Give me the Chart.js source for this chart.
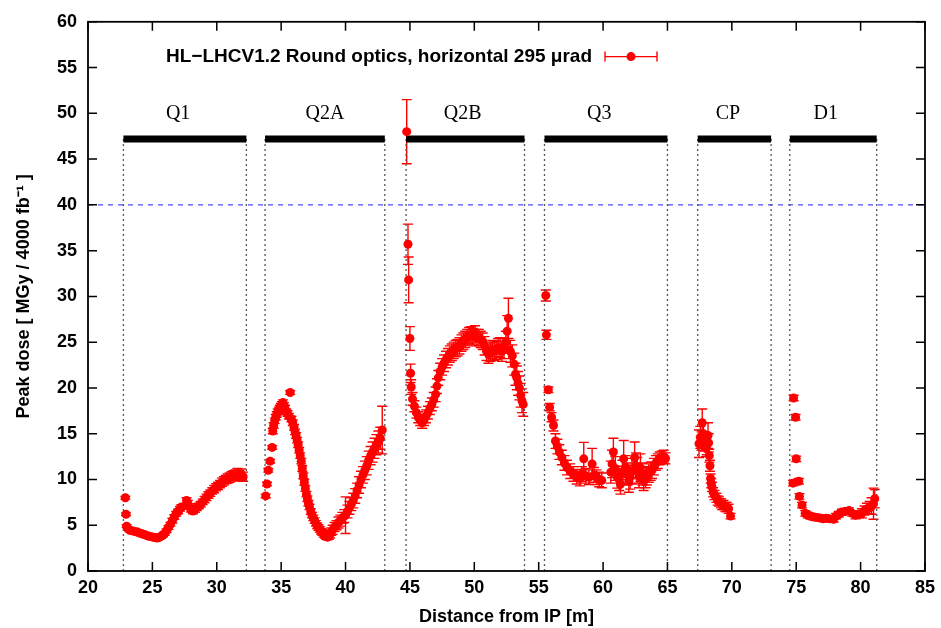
<!DOCTYPE html>
<html><head><meta charset="utf-8">
<script src="https://cdn.jsdelivr.net/npm/chart.js@4.4.1/dist/chart.umd.min.js"></script>
<style>html,body{margin:0;padding:0;background:#fff}#wrap{width:941px;height:628px}</style>
</head><body><div id="wrap"><canvas id="c" width="941" height="628"></canvas></div>
<script>
// ---- axes ----
const xMin = 20, xMax = 85, xStep = 5;
const yMin = 0, yMax = 60, yStep = 5;
const xTitle = 'Distance from IP [m]';
const yTitle = 'Peak dose [ MGy / 4000 fb\u207B\u00B9 ]';
const legendLabel = 'HL\u2212LHCV1.2 Round optics, horizontal 295 \u03BCrad';

// ---- magnets ----
const magnetNames = ['Q1', 'Q2A', 'Q2B', 'Q3', 'CP', 'D1'];
const magnetStart = [22.75, 33.75, 44.7, 55.45, 67.35, 74.5];
const magnetEnd = [32.3, 43.05, 53.9, 65.0, 73.05, 81.25];
const magnetLabelAt = [27.0, 38.4, 49.1, 59.7, 69.7, 77.3];
const magnetBarLevel = 47.2;
const magnetLabelLevel = 49.9;
const doseLimit = 40;

// ---- data: distance [m], peak dose [MGy], error ----
const q1Dist = [22.9,22.95,23.0,23.1,23.25,23.4,23.55,23.7,23.85,24.0,24.15,24.3,24.45,24.6,24.75,24.9,25.05,25.2,25.35,25.5,25.65,25.8,25.95,26.1,26.25,26.4,26.55,26.7,26.85,27.0,27.15,27.25,27.65,27.75,27.85,28.0,28.15,28.3,28.45,28.6,28.75,28.9,29.05,29.2,29.35,29.5,29.65,29.8,29.95,30.1,30.25,30.4,30.55,30.7,30.85,31.0,31.15,31.3,31.45,31.6,31.75,31.9,32.05];
const q1Dose = [8.0,6.2,4.9,4.6,4.45,4.4,4.35,4.3,4.25,4.15,4.1,4.0,3.95,3.85,3.8,3.75,3.7,3.65,3.6,3.65,3.75,3.9,4.1,4.4,4.75,5.1,5.5,5.9,6.25,6.5,6.8,7.0,7.7,7.4,7.05,6.75,6.55,6.7,6.9,7.1,7.3,7.55,7.8,8.05,8.3,8.5,8.75,8.95,9.15,9.3,9.5,9.7,9.85,10.0,10.1,10.2,10.35,10.4,10.5,10.6,10.4,10.55,10.3];
const q1Err = [0.15,0.15,0.15,0.15,0.15,0.15,0.15,0.15,0.15,0.15,0.15,0.15,0.15,0.15,0.15,0.15,0.15,0.15,0.15,0.15,0.2,0.2,0.2,0.2,0.2,0.2,0.25,0.25,0.25,0.25,0.25,0.25,0.3,0.3,0.3,0.3,0.3,0.3,0.3,0.3,0.3,0.3,0.35,0.35,0.35,0.35,0.35,0.4,0.4,0.4,0.4,0.45,0.45,0.45,0.5,0.5,0.5,0.55,0.55,0.6,0.55,0.6,0.5];

const q2aDist = [33.8,33.9,34.0,34.15,34.3,34.35,34.42,34.5,34.58,34.66,34.74,34.82,34.9,34.98,35.06,35.14,35.22,35.3,35.4,35.5,35.6,35.7,35.8,35.9,36.0,36.08,36.16,36.24,36.32,36.4,36.48,36.56,36.64,36.72,36.8,36.88,36.96,37.04,37.12,37.2,37.3,37.4,37.5,37.6,37.7,37.8,37.9,38.0,38.1,38.2,38.3,38.4,38.5,38.6,38.7,38.8,38.9,39.0,39.15,39.3,39.45,39.6,39.75,39.9,40.0,40.15,40.3,40.45,40.6,40.75,40.9,41.05,41.2,41.35,41.5,41.65,41.8,41.95,42.1,42.25,42.4,42.55,42.7,42.85];
const q2aDose = [8.2,9.5,11.0,12.0,13.5,15.3,15.9,16.4,16.8,17.1,17.4,17.6,17.8,18.0,18.2,18.4,18.1,17.8,17.4,17.2,16.9,19.5,16.6,16.2,15.7,15.2,14.8,14.3,13.8,13.2,12.6,12.0,11.2,10.4,9.7,9.0,8.4,7.9,7.4,7.0,6.5,6.1,5.8,5.5,5.2,4.95,4.75,4.55,4.35,4.2,4.0,3.9,3.75,3.7,3.85,4.0,4.3,4.5,4.8,5.0,5.3,5.5,5.8,6.0,6.1,6.5,6.9,7.3,7.7,8.2,8.8,9.4,10.0,10.5,11.0,11.5,12.1,12.6,13.0,13.4,13.8,14.1,14.5,15.4];
const q2aErr = [0.2,0.2,0.2,0.2,0.2,0.3,0.3,0.3,0.3,0.3,0.3,0.3,0.3,0.3,0.3,0.3,0.3,0.3,0.3,0.3,0.3,0.2,0.3,0.3,0.3,0.3,0.3,0.3,0.3,0.3,0.3,0.3,0.3,0.3,0.3,0.3,0.3,0.3,0.3,0.3,0.3,0.3,0.3,0.3,0.3,0.3,0.3,0.3,0.3,0.3,0.3,0.3,0.3,0.3,0.4,0.4,0.4,0.5,0.5,0.5,0.6,0.6,0.6,0.7,2.0,0.7,0.7,0.7,0.8,0.8,0.8,0.9,0.9,0.9,1.0,1.0,1.0,1.0,1.1,1.1,1.1,1.2,1.2,2.6];

const q2bDist = [44.75,44.85,44.9,45.0,45.05,45.1,45.2,45.35,45.5,45.65,45.8,45.95,46.1,46.25,46.4,46.55,46.7,46.85,47.0,47.1,47.2,47.35,47.5,47.65,47.8,47.95,48.1,48.25,48.4,48.55,48.7,48.85,49.0,49.15,49.3,49.45,49.6,49.75,49.9,50.05,50.2,50.35,50.5,50.65,50.8,50.95,51.1,51.25,51.4,51.55,51.7,51.85,52.0,52.15,52.3,52.45,52.55,52.65,52.8,52.95,53.1,53.2,53.3,53.4,53.5,53.6,53.7,53.8];
const q2bDose = [48.0,35.7,31.8,25.4,21.6,20.1,18.8,18.0,17.3,16.8,16.5,16.2,16.5,16.9,17.3,17.8,18.2,18.7,19.3,20.2,21.1,21.8,22.3,22.7,23.1,23.4,23.7,23.9,24.1,24.3,24.4,24.6,24.9,25.1,25.3,25.5,25.7,25.8,25.6,25.9,25.5,25.5,25.3,25.1,24.6,24.0,23.7,23.9,24.2,24.0,24.1,24.4,24.4,24.0,24.3,25.0,26.2,27.6,24.0,23.5,22.6,21.5,21.1,20.5,20.0,19.2,18.6,18.2];
const q2bErr = [3.5,2.2,2.5,1.3,1.0,0.8,0.7,0.6,0.6,0.6,0.6,0.6,0.6,0.7,0.7,0.7,0.7,0.8,0.8,0.8,0.8,0.9,0.9,0.9,0.9,0.9,0.9,0.9,0.9,0.9,0.9,0.9,0.9,0.9,0.9,0.9,0.9,0.9,0.9,0.9,0.9,0.9,0.9,0.9,1.0,1.0,1.0,1.0,1.0,1.0,1.0,1.0,1.1,1.1,1.1,1.2,1.7,2.2,1.2,1.2,1.2,1.2,1.3,1.3,1.3,1.3,1.3,1.3];

const q3Dist = [55.55,55.6,55.75,55.85,56.0,56.15,56.3,56.45,56.6,56.8,57.0,57.2,57.45,57.7,57.95,58.2,58.35,58.5,58.65,58.9,59.15,59.3,59.5,59.7,59.9,60.6,60.7,60.8,60.95,61.1,61.25,61.35,61.5,61.6,61.75,61.9,62.0,62.1,62.25,62.45,62.55,62.65,62.8,62.9,63.05,63.15,63.3,63.4,63.55,63.7,63.8,63.95,64.1,64.25,64.4,64.55,64.7,64.85];
const q3Dose = [30.1,25.8,19.8,17.9,16.8,15.9,14.2,13.6,13.0,12.4,11.8,11.3,10.9,10.6,10.3,10.1,10.6,12.25,10.4,10.25,11.7,10.5,10.25,10.0,9.9,10.8,11.7,13.0,11.2,10.25,10.0,9.5,10.8,12.25,11.3,10.6,9.8,10.25,10.9,12.4,11.5,11.0,10.3,11.3,10.6,9.9,10.2,10.4,10.7,10.9,11.0,11.4,11.8,12.0,12.3,12.4,12.5,12.3];
const q3Err = [0.6,0.5,0.3,0.4,0.5,0.6,0.8,0.8,0.8,0.8,0.8,0.8,0.8,0.8,0.8,0.8,0.8,1.8,0.8,0.8,1.7,0.8,0.8,0.8,0.8,1.2,1.5,1.5,1.3,1.2,1.2,1.1,1.3,2.0,1.3,1.2,1.2,1.3,1.4,1.7,1.4,1.4,1.2,1.5,1.2,1.1,1.1,1.0,1.0,1.0,0.9,0.9,0.8,0.8,0.7,0.7,0.7,0.6];

const cpDist = [67.45,67.55,67.65,67.7,67.8,67.9,68.0,68.05,68.15,68.2,68.25,68.3,68.35,68.4,68.45,68.55,68.65,68.8,68.9,69.0,69.15,69.25,69.35,69.5,69.6,69.75,69.9];
const cpDose = [13.9,14.6,14.2,16.2,15.0,14.1,13.5,13.7,14.8,14.0,12.6,11.5,10.1,9.6,9.2,8.6,8.3,8.0,7.7,7.6,7.4,7.2,7.2,7.0,7.0,6.8,6.0];
const cpErr = [1.5,1.2,1.0,1.5,1.2,1.0,1.0,1.0,1.4,1.0,0.7,0.6,0.5,0.5,0.5,0.5,0.5,0.5,0.5,0.5,0.5,0.5,0.5,0.5,0.5,0.5,0.3];

const d1Dist = [74.75,74.8,74.95,75.0,75.2,75.25,75.45,75.7,75.9,76.1,76.35,76.6,76.85,77.1,77.35,77.6,77.9,78.1,78.3,78.55,78.8,79.1,79.35,79.6,79.85,80.1,80.3,80.5,80.7,80.85,81.0,81.1];
const d1Dose = [9.6,18.9,16.8,12.25,9.8,8.15,7.2,6.3,6.1,6.0,5.9,5.85,5.8,5.7,5.75,5.7,5.65,6.0,6.2,6.45,6.5,6.6,6.3,6.1,6.2,6.3,6.6,6.8,6.9,7.1,7.35,7.9];
const d1Err = [0.3,0.3,0.3,0.3,0.3,0.3,0.3,0.3,0.3,0.3,0.3,0.3,0.3,0.3,0.3,0.3,0.3,0.3,0.3,0.3,0.3,0.3,0.3,0.4,0.4,0.5,0.5,0.6,0.7,0.9,1.7,1.0];

// ---- styles ----
const RED = '#ff0000';
const SANS = '"Liberation Sans", Arial, sans-serif';
const SERIF = '"Liberation Serif", "Times New Roman", serif';

function points(d, v, e) { return d.map((x, i) => ({ x: x, y: v[i], err: e[i] })); }

const doseGroups = [
  points(q1Dist, q1Dose, q1Err),
  points(q2aDist, q2aDose, q2aErr),
  points(q2bDist, q2bDose, q2bErr),
  points(q3Dist, q3Dose, q3Err),
  points(cpDist, cpDose, cpErr),
  points(d1Dist, d1Dose, d1Err)
];

const datasets = [];
doseGroups.forEach(g => datasets.push({
  type: 'scatter', data: g, isDose: true, showLine: false,
  pointRadius: 4.5, pointHoverRadius: 4.5, pointBorderWidth: 0,
  backgroundColor: RED, borderColor: RED
}));
magnetNames.forEach((n, i) => datasets.push({
  type: 'line', data: [{ x: magnetStart[i], y: magnetBarLevel }, { x: magnetEnd[i], y: magnetBarLevel }],
  borderColor: '#000', borderWidth: 7, pointRadius: 0, borderCapStyle: 'butt', showLine: true
}));
magnetNames.forEach((n, i) => {
  [magnetStart[i], magnetEnd[i]].forEach(b => datasets.push({
    type: 'line', data: [{ x: b, y: yMin }, { x: b, y: magnetBarLevel }],
    borderColor: '#555', borderWidth: 1.3, borderDash: [2, 3], pointRadius: 0, showLine: true
  }));
});
datasets.push({
  type: 'line', data: [{ x: xMin, y: doseLimit }, { x: xMax, y: doseLimit }],
  borderColor: '#4a4aff', borderWidth: 1.2, borderDash: [5, 5], pointRadius: 0, showLine: true
});

const errorBars = {
  id: 'errorBars',
  beforeDatasetsDraw(chart) {
    const { ctx, scales: { x, y } } = chart;
    ctx.save();
    ctx.strokeStyle = RED; ctx.lineWidth = 1.4;
    chart.data.datasets.forEach(ds => {
      if (!ds.isDose) return;
      ds.data.forEach(p => {
        const px = x.getPixelForValue(p.x);
        const t = y.getPixelForValue(p.y + p.err), b = y.getPixelForValue(p.y - p.err);
        ctx.beginPath();
        ctx.moveTo(px, t); ctx.lineTo(px, b);
        ctx.moveTo(px - 5, t); ctx.lineTo(px + 5, t);
        ctx.moveTo(px - 5, b); ctx.lineTo(px + 5, b);
        ctx.stroke();
      });
    });
    ctx.restore();
  }
};

const frameAndLabels = {
  id: 'frameAndLabels',
  afterDraw(chart) {
    const { ctx, chartArea: a, scales: { x, y } } = chart;
    ctx.save();
    ctx.strokeStyle = '#000'; ctx.lineWidth = 1.5;
    ctx.beginPath();
    x.ticks.forEach(t => {
      const px = x.getPixelForValue(t.value);
      ctx.moveTo(px, a.bottom); ctx.lineTo(px, a.bottom - 9);
      ctx.moveTo(px, a.top); ctx.lineTo(px, a.top + 9);
    });
    y.ticks.forEach(t => {
      const py = y.getPixelForValue(t.value);
      ctx.moveTo(a.left, py); ctx.lineTo(a.left + 9, py);
      ctx.moveTo(a.right, py); ctx.lineTo(a.right - 9, py);
    });
    ctx.stroke();
    ctx.lineWidth = 1.8;
    ctx.strokeRect(a.left, a.top, a.right - a.left, a.bottom - a.top);

    // magnet labels
    ctx.fillStyle = '#000';
    ctx.font = '20px ' + SERIF;
    ctx.textAlign = 'center'; ctx.textBaseline = 'middle';
    magnetNames.forEach((n, i) => ctx.fillText(n, x.getPixelForValue(magnetLabelAt[i]), y.getPixelForValue(magnetLabelLevel)));

    // legend
    const ly = y.getPixelForValue(56.2);
    ctx.font = 'bold 19px ' + SANS;
    ctx.textAlign = 'right';
    ctx.fillText(legendLabel, 592, ly);
    ctx.strokeStyle = RED; ctx.lineWidth = 1.4;
    ctx.beginPath();
    ctx.moveTo(605, ly); ctx.lineTo(657, ly);
    ctx.moveTo(605, ly - 5); ctx.lineTo(605, ly + 5);
    ctx.moveTo(657, ly - 5); ctx.lineTo(657, ly + 5);
    ctx.stroke();
    ctx.fillStyle = RED;
    ctx.beginPath(); ctx.arc(631, ly, 4.5, 0, Math.PI * 2); ctx.fill();
    ctx.restore();
  }
};

new Chart(document.getElementById('c'), {
  type: 'scatter',
  data: { datasets: datasets },
  options: {
    responsive: false, animation: false, devicePixelRatio: 1,
    layout: { padding: { top: 19, right: 16, left: 0, bottom: 0 } },
    plugins: { legend: { display: false }, tooltip: { enabled: false } },
    scales: {
      x: {
        type: 'linear', min: xMin, max: xMax,
        grid: { display: false, drawTicks: false }, border: { display: false },
        ticks: { stepSize: xStep, color: '#000', font: { family: SANS, size: 18, weight: 'bold' }, padding: 6, maxRotation: 0 },
        title: { display: true, text: xTitle, color: '#000', font: { family: SANS, size: 18, weight: 'bold' }, padding: { top: 0, bottom: 0 } },
        afterFit(s) { s.height = 57; }
      },
      y: {
        type: 'linear', min: yMin, max: yMax,
        grid: { display: false, drawTicks: false }, border: { display: false },
        ticks: { stepSize: yStep, color: '#000', font: { family: SANS, size: 18, weight: 'bold' }, padding: 11 },
        title: { display: true, text: yTitle, color: '#000', font: { family: SANS, size: 18, weight: 'bold' }, padding: { top: 13, bottom: 0 } },
        afterFit(s) { s.width = 88; }
      }
    }
  },
  plugins: [errorBars, frameAndLabels]
});
</script>
</body></html>
